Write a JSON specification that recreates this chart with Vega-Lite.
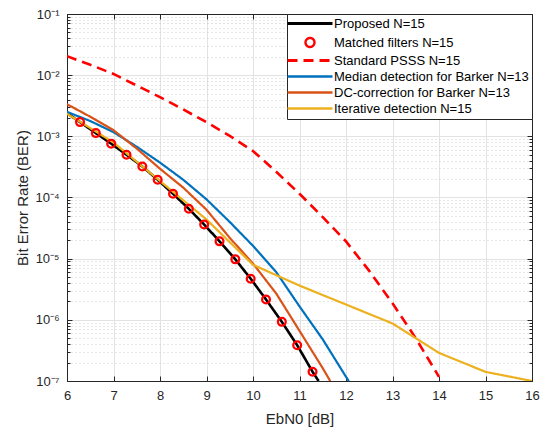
{
  "$schema": "https://vega.github.io/schema/vega-lite/v6.json",
  "width": 465,
  "height": 367,
  "autosize": {"type": "none"},
  "padding": {"left": 67, "top": 14, "right": 14, "bottom": 48},
  "background": "white",
  "config": {
    "view": {"stroke": "#262626", "strokeWidth": 1},
    "font": "Liberation Sans",
    "axis": {
      "labelFont": "Liberation Sans",
      "labelFontSize": 13,
      "labelColor": "#262626",
      "titleFont": "Liberation Sans",
      "titleFontSize": 15,
      "titleFontWeight": "normal",
      "titleColor": "#262626",
      "domainColor": "#262626",
      "tickColor": "#262626"
    }
  },
  "datasets": {
    "lines": [
      {"x": 6, "ber": 2.40e-3, "series": "Proposed N=15"},
      {"x": 6.28, "ber": 1.71e-3, "series": "Proposed N=15"},
      {"x": 6.62, "ber": 1.13e-3, "series": "Proposed N=15"},
      {"x": 6.95, "ber": 7.59e-4, "series": "Proposed N=15"},
      {"x": 7.28, "ber": 5.01e-4, "series": "Proposed N=15"},
      {"x": 7.62, "ber": 3.22e-4, "series": "Proposed N=15"},
      {"x": 7.95, "ber": 1.95e-4, "series": "Proposed N=15"},
      {"x": 8.28, "ber": 1.15e-4, "series": "Proposed N=15"},
      {"x": 8.62, "ber": 6.53e-5, "series": "Proposed N=15"},
      {"x": 8.95, "ber": 3.61e-5, "series": "Proposed N=15"},
      {"x": 9.28, "ber": 1.92e-5, "series": "Proposed N=15"},
      {"x": 9.62, "ber": 9.75e-6, "series": "Proposed N=15"},
      {"x": 9.95, "ber": 4.70e-6, "series": "Proposed N=15"},
      {"x": 10.28, "ber": 2.15e-6, "series": "Proposed N=15"},
      {"x": 10.62, "ber": 9.27e-7, "series": "Proposed N=15"},
      {"x": 10.95, "ber": 3.85e-7, "series": "Proposed N=15"},
      {"x": 11.28, "ber": 1.42e-7, "series": "Proposed N=15"},
      {"x": 11.41, "ber": 1.0e-7, "series": "Proposed N=15"},

      {"x": 6, "ber": 2.04e-2, "series": "Standard PSSS N=15"},
      {"x": 6.5, "ber": 1.48e-2, "series": "Standard PSSS N=15"},
      {"x": 7, "ber": 1.047e-2, "series": "Standard PSSS N=15"},
      {"x": 7.5, "ber": 6.76e-3, "series": "Standard PSSS N=15"},
      {"x": 8, "ber": 4.37e-3, "series": "Standard PSSS N=15"},
      {"x": 8.5, "ber": 2.75e-3, "series": "Standard PSSS N=15"},
      {"x": 9, "ber": 1.70e-3, "series": "Standard PSSS N=15"},
      {"x": 9.5, "ber": 1.02e-3, "series": "Standard PSSS N=15"},
      {"x": 10, "ber": 5.75e-4, "series": "Standard PSSS N=15"},
      {"x": 10.5, "ber": 2.63e-4, "series": "Standard PSSS N=15"},
      {"x": 11, "ber": 1.15e-4, "series": "Standard PSSS N=15"},
      {"x": 11.5, "ber": 4.79e-5, "series": "Standard PSSS N=15"},
      {"x": 12, "ber": 1.91e-5, "series": "Standard PSSS N=15"},
      {"x": 12.5, "ber": 6.31e-6, "series": "Standard PSSS N=15"},
      {"x": 13, "ber": 1.86e-6, "series": "Standard PSSS N=15"},
      {"x": 13.5, "ber": 5.01e-7, "series": "Standard PSSS N=15"},
      {"x": 14, "ber": 1.17e-7, "series": "Standard PSSS N=15"},

      {"x": 6, "ber": 2.51e-3, "series": "Median detection for Barker N=13"},
      {"x": 6.5, "ber": 1.78e-3, "series": "Median detection for Barker N=13"},
      {"x": 7, "ber": 1.17e-3, "series": "Median detection for Barker N=13"},
      {"x": 7.5, "ber": 6.76e-4, "series": "Median detection for Barker N=13"},
      {"x": 8, "ber": 3.72e-4, "series": "Median detection for Barker N=13"},
      {"x": 8.5, "ber": 1.95e-4, "series": "Median detection for Barker N=13"},
      {"x": 9, "ber": 9.33e-5, "series": "Median detection for Barker N=13"},
      {"x": 9.5, "ber": 3.98e-5, "series": "Median detection for Barker N=13"},
      {"x": 10, "ber": 1.62e-5, "series": "Median detection for Barker N=13"},
      {"x": 10.5, "ber": 6.03e-6, "series": "Median detection for Barker N=13"},
      {"x": 11, "ber": 1.66e-6, "series": "Median detection for Barker N=13"},
      {"x": 11.5, "ber": 4.79e-7, "series": "Median detection for Barker N=13"},
      {"x": 12, "ber": 1.17e-7, "series": "Median detection for Barker N=13"},
      {"x": 12.06, "ber": 1.0e-7, "series": "Median detection for Barker N=13"},

      {"x": 6, "ber": 3.35e-3, "series": "DC-correction for Barker N=13"},
      {"x": 6.5, "ber": 2.09e-3, "series": "DC-correction for Barker N=13"},
      {"x": 7, "ber": 1.26e-3, "series": "DC-correction for Barker N=13"},
      {"x": 7.5, "ber": 6.31e-4, "series": "DC-correction for Barker N=13"},
      {"x": 8, "ber": 2.95e-4, "series": "DC-correction for Barker N=13"},
      {"x": 8.5, "ber": 1.45e-4, "series": "DC-correction for Barker N=13"},
      {"x": 9, "ber": 6.31e-5, "series": "DC-correction for Barker N=13"},
      {"x": 9.5, "ber": 2.19e-5, "series": "DC-correction for Barker N=13"},
      {"x": 10, "ber": 8.32e-6, "series": "DC-correction for Barker N=13"},
      {"x": 10.5, "ber": 2.69e-6, "series": "DC-correction for Barker N=13"},
      {"x": 11, "ber": 6.61e-7, "series": "DC-correction for Barker N=13"},
      {"x": 11.5, "ber": 1.62e-7, "series": "DC-correction for Barker N=13"},
      {"x": 11.66, "ber": 1.0e-7, "series": "DC-correction for Barker N=13"},

      {"x": 6, "ber": 2.34e-3, "series": "Iterative detection N=15"},
      {"x": 7, "ber": 7.94e-4, "series": "Iterative detection N=15"},
      {"x": 8, "ber": 1.86e-4, "series": "Iterative detection N=15"},
      {"x": 9, "ber": 4.37e-5, "series": "Iterative detection N=15"},
      {"x": 10, "ber": 7.94e-6, "series": "Iterative detection N=15"},
      {"x": 11, "ber": 3.63e-6, "series": "Iterative detection N=15"},
      {"x": 12, "ber": 1.78e-6, "series": "Iterative detection N=15"},
      {"x": 13, "ber": 8.71e-7, "series": "Iterative detection N=15"},
      {"x": 14, "ber": 2.88e-7, "series": "Iterative detection N=15"},
      {"x": 15, "ber": 1.41e-7, "series": "Iterative detection N=15"},
      {"x": 16, "ber": 1.0e-7, "series": "Iterative detection N=15"}
    ],
    "matched": [
      {"x": 6.28, "ber": 1.71e-3},
      {"x": 6.62, "ber": 1.13e-3},
      {"x": 6.95, "ber": 7.59e-4},
      {"x": 7.28, "ber": 5.01e-4},
      {"x": 7.62, "ber": 3.22e-4},
      {"x": 7.95, "ber": 1.95e-4},
      {"x": 8.28, "ber": 1.15e-4},
      {"x": 8.62, "ber": 6.53e-5},
      {"x": 8.95, "ber": 3.61e-5},
      {"x": 9.28, "ber": 1.92e-5},
      {"x": 9.62, "ber": 9.75e-6},
      {"x": 9.95, "ber": 4.70e-6},
      {"x": 10.28, "ber": 2.15e-6},
      {"x": 10.62, "ber": 9.27e-7},
      {"x": 10.95, "ber": 3.85e-7},
      {"x": 11.28, "ber": 1.42e-7}
    ]
  },
  "resolve": {"axis": {"x": "independent", "y": "independent"}},
  "layer": [
    {
      "data": {"name": "lines"},
      "mark": {"type": "line", "clip": true},
      "encoding": {
        "x": {
          "field": "x", "type": "quantitative",
          "scale": {"domain": [6, 16], "nice": false, "zero": false},
          "axis": {
            "title": "EbN0 [dB]",
            "values": [6, 7, 8, 9, 10, 11, 12, 13, 14, 15, 16],
            "grid": true, "gridColor": "#e3e3e3", "gridWidth": 1,
            "tickSize": -5, "labelPadding": 13, "titlePadding": 9,
            "format": "d", "labelFlush": false
          }
        },
        "y": {
          "field": "ber", "type": "quantitative",
          "scale": {"type": "log", "domain": [1e-7, 0.1], "nice": false},
          "axis": {
            "title": "Bit Error Rate (BER)",
            "values": [1e-7, 2e-7, 3e-7, 4e-7, 5e-7, 6e-7, 7e-7, 8e-7, 9e-7,
                       1e-6, 2e-6, 3e-6, 4e-6, 5e-6, 6e-6, 7e-6, 8e-6, 9e-6,
                       1e-5, 2e-5, 3e-5, 4e-5, 5e-5, 6e-5, 7e-5, 8e-5, 9e-5,
                       1e-4, 2e-4, 3e-4, 4e-4, 5e-4, 6e-4, 7e-4, 8e-4, 9e-4,
                       1e-3, 2e-3, 3e-3, 4e-3, 5e-3, 6e-3, 7e-3, 8e-3, 9e-3,
                       1e-2, 2e-2, 3e-2, 4e-2, 5e-2, 6e-2, 7e-2, 8e-2, 9e-2, 1e-1],
            "labelExpr": "abs(log(datum.value)/LN10 - round(log(datum.value)/LN10)) < 0.01 ? ['10⁻⁷','10⁻⁶','10⁻⁵','10⁻⁴','10⁻³','10⁻²','10⁻¹'][round(log(datum.value)/LN10)+7] : ''",
            "grid": true,
            "gridColor": {"condition": {"test": "abs(log(datum.value)/LN10 - round(log(datum.value)/LN10)) < 0.01", "value": "#e3e3e3"}, "value": "#cfcfcf"},
            "gridDash": {"condition": {"test": "abs(log(datum.value)/LN10 - round(log(datum.value)/LN10)) < 0.01", "value": []}, "value": [1, 3]},
            "tickSize": {"condition": {"test": "abs(log(datum.value)/LN10 - round(log(datum.value)/LN10)) < 0.01", "value": -5}, "value": -3},
            "labelPadding": 13, "titlePadding": 4, "labelFlush": false, "labelOverlap": false
          }
        },
        "color": {
          "field": "series", "type": "nominal",
          "scale": {
            "domain": ["Proposed N=15", "Matched filters N=15", "Standard PSSS N=15", "Median detection for Barker N=13", "DC-correction for Barker N=13", "Iterative detection N=15"],
            "range": ["#000000", "#ff0000", "#ff0000", "#0072bd", "#d95319", "#edb120"]
          },
          "legend": {
            "title": null,
            "orient": "top-right",
            "offset": 0,
            "padding": 3,
            "strokeColor": "#262626",
            "fillColor": "white",
            "labelFont": "Liberation Sans",
            "labelFontSize": 13,
            "labelColor": "#000000",
            "labelLimit": 400,
            "symbolSize": 324,
            "rowPadding": 2,
            "labelOffset": 31,
            "encode": {
              "symbols": {
                "update": {
                  "shape": {"signal": "datum.value == 'Matched filters N=15' ? 'M2,0A0.5,0.5,0,1,1,1,0A0.5,0.5,0,1,1,2,0Z' : 'M-1,0L4,0'"},
                  "size": {"value": 324},
                  "fill": {"value": "transparent"},
                  "strokeDash": {"signal": "datum.value == 'Standard PSSS N=15' ? [10, 6] : [1, 0]"},
                  "strokeWidth": {"signal": "datum.value == 'Proposed N=15' || datum.value == 'Standard PSSS N=15' ? 2.8 : 2.4"}
                }
              }
            }
          }
        },
        "strokeDash": {
          "field": "series", "type": "nominal",
          "scale": {
            "domain": ["Proposed N=15", "Matched filters N=15", "Standard PSSS N=15", "Median detection for Barker N=13", "DC-correction for Barker N=13", "Iterative detection N=15"],
            "range": [[1, 0], [1, 0], [10, 6], [1, 0], [1, 0], [1, 0]]
          },
          "legend": null
        },
        "strokeWidth": {
          "condition": {"test": "datum.series == 'Proposed N=15' || datum.series == 'Standard PSSS N=15'", "value": 2.6},
          "value": 2.2
        }
      }
    },
    {
      "data": {"name": "matched"},
      "mark": {"type": "point", "shape": "circle", "filled": false, "color": "#ff0000", "strokeWidth": 2.3, "size": 60, "opacity": 1},
      "encoding": {
        "x": {
          "field": "x", "type": "quantitative",
          "axis": {"orient": "top", "title": null, "labels": false, "grid": false,
                   "values": [6, 7, 8, 9, 10, 11, 12, 13, 14, 15, 16], "tickSize": -5}
        },
        "y": {
          "field": "ber", "type": "quantitative",
          "axis": {
            "orient": "right", "title": null, "labels": false, "grid": false,
            "values": [1e-7, 2e-7, 3e-7, 4e-7, 5e-7, 6e-7, 7e-7, 8e-7, 9e-7,
                       1e-6, 2e-6, 3e-6, 4e-6, 5e-6, 6e-6, 7e-6, 8e-6, 9e-6,
                       1e-5, 2e-5, 3e-5, 4e-5, 5e-5, 6e-5, 7e-5, 8e-5, 9e-5,
                       1e-4, 2e-4, 3e-4, 4e-4, 5e-4, 6e-4, 7e-4, 8e-4, 9e-4,
                       1e-3, 2e-3, 3e-3, 4e-3, 5e-3, 6e-3, 7e-3, 8e-3, 9e-3,
                       1e-2, 2e-2, 3e-2, 4e-2, 5e-2, 6e-2, 7e-2, 8e-2, 9e-2, 1e-1],
            "tickSize": {"condition": {"test": "abs(log(datum.value)/LN10 - round(log(datum.value)/LN10)) < 0.01", "value": -5}, "value": -3}
          }
        }
      }
    }
  ]
}
